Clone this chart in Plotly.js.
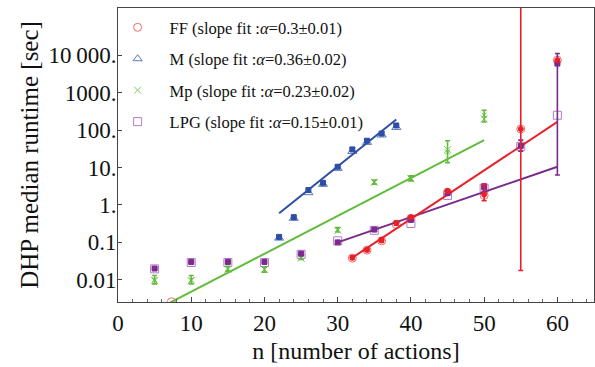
<!DOCTYPE html>
<html>
<head>
<meta charset="utf-8">
<script src="https://cdn.plot.ly/plotly-3.0.1.min.js"></script>
<style>html,body{margin:0;padding:0;background:#fff;}#chart{width:595px;height:367px;}</style>
</head>
<body>
<div id="chart"></div>
<script>
// ---------- data ----------
// FF
var ffN      = [7.3, 32, 34, 36, 38, 40, 45, 50, 55, 60];
var ffMedian = [0.0026, 0.038, 0.062, 0.11, 0.30, 0.44, 2.2, 1.8, 107, 7400];
var ffMean   = [null, 0.039, 0.063, 0.115, 0.33, 0.47, 2.35, 1.9, 107, 7400];
var ffLow    = [null, 0.035, 0.057, 0.10, 0.29, 0.43, 2.1, 1.3, 0.0178, 7000];
var ffHigh   = [null, 0.043, 0.069, 0.13, 0.37, 0.51, 2.6, 3.6, 1e7, 7800];
var ffFitN   = [32, 60];
var ffFit    = [0.039, 166];
// M
var mN      = [22, 24, 26, 28, 30, 32, 34, 36, 38];
var mMedian = [0.13, 0.44, 2.13, 3.56, 9.5, 27, 47, 74, 118];
var mMean   = [0.14, 0.47, 2.5, 3.9, 10.5, 30.5, 52, 81, 133];
var mLow    = [0.125, 0.42, 2.25, 3.5, 9.6, 28, 48, 75, 122];
var mHigh   = [0.155, 0.52, 2.75, 4.3, 11.5, 33, 56, 87, 144];
var mFitN   = [22, 38];
var mFit    = [0.6, 193];
// Mp
var mpN      = [5, 10, 15, 20, 25, 30, 35, 40, 45, 50];
var mpMedian = [0.0095, 0.0095, 0.019, 0.019, 0.038, 0.21, 4.0, 5.0, 30, 200];
var mpMean   = [0.010, 0.010, 0.020, 0.019, 0.040, 0.22, 4.1, 5.2, 26, 250];
var mpLow    = [0.0078, 0.0078, 0.017, 0.016, 0.035, 0.19, 3.6, 4.4, 13.5, 165];
var mpHigh   = [0.013, 0.013, 0.023, 0.022, 0.045, 0.25, 4.6, 6.0, 52, 340];
var mpFitN   = [5, 50];
var mpFit    = [0.0015, 54];
// LPG
var lpgN      = [5, 10, 15, 20, 25, 30, 35, 40, 45, 50, 55, 60];
var lpgMedian = [0.0196, 0.029, 0.029, 0.029, 0.048, 0.11, 0.21, 0.32, 1.8, 2.8, 37, 250];
var lpgMean   = [0.020, 0.030, 0.030, 0.030, 0.050, 0.10, 0.22, 0.40, 2.1, 3.0, 38, 6000];
var lpgLow    = [0.019, 0.028, 0.028, 0.028, 0.047, 0.095, 0.20, 0.37, 1.9, 2.3, 27.5, 6.3];
var lpgHigh   = [0.021, 0.032, 0.032, 0.032, 0.053, 0.106, 0.24, 0.43, 2.3, 3.6, 54, 11100];
var lpgFitN   = [30, 60];
var lpgFit    = [0.1, 10.5];

var yTickVals = [0.01, 0.1, 1, 10, 100, 1000, 10000];
var yTickText = ["0.01", "0.1", "1.", "10.", "100.", "1000.", "10\u2009000."];
var xTickVals = [0, 10, 20, 30, 40, 50, 60];

var legendNames = [
  "FF (slope fit :<i>α</i>=0.3±0.01)",
  "M (slope fit :<i>α</i>=0.36±0.02)",
  "Mp (slope fit :<i>α</i>=0.23±0.02)",
  "LPG (slope fit :<i>α</i>=0.15±0.01)"
];

// ---------- helpers ----------
function plus(mean, high){ return mean.map(function(v,i){ return v==null?null:high[i]-v; }); }
function minus(mean, low){ return mean.map(function(v,i){ return v==null?null:v-low[i]; }); }

var C = {
  ff:  {light:'#f06a6a', dark:'#e8202a'},
  m:   {light:'#5a78c4', dark:'#2e4ea6'},
  mp:  {light:'#7ccc5a', dark:'#62bb3c'},
  lpg: {light:'#b27cc8', dark:'#7a2a8c'}
};

function openTrace(x, y, name, sym, col, grp){
  return {x:x, y:y, type:'scatter', mode:'markers', name:name, legendgroup:grp,
    marker:{symbol:sym, size:(sym==='x-thin-open'?7:8), color:col, line:{color:col, width:1}}};
}
function errTrace(x, y, low, high, col, sym){
  return {x:x, y:y, type:'scatter', mode:'markers', showlegend:false, hoverinfo:'skip',
    marker:{symbol:sym, size:5, color:col, line:{color:col, width:1}},
    error_y:{type:'data', symmetric:false, array:plus(y, high), arrayminus:minus(y, low),
      color:col, thickness:1.6, width:2.5}};
}
function fitTrace(x, y, col){
  return {x:x, y:y, type:'scatter', mode:'lines', showlegend:false, hoverinfo:'skip',
    line:{color:col, width:2}};
}

var data = [
  openTrace(ffN, ffMedian, legendNames[0], 'circle-open', C.ff.light, 'g1'),
  openTrace(mN, mMedian, legendNames[1], 'triangle-up-open', C.m.light, 'g2'),
  openTrace(mpN, mpMedian, legendNames[2], 'x-thin-open', C.mp.light, 'g3'),
  openTrace(lpgN, lpgMedian, legendNames[3], 'square-open', C.lpg.light, 'g4'),
  fitTrace(mpFitN, mpFit, C.mp.dark),
  fitTrace(mFitN, mFit, C.m.dark),
  fitTrace(lpgFitN, lpgFit, C.lpg.dark),
  fitTrace(ffFitN, ffFit, C.ff.dark),
  errTrace(mpN, mpMean, mpLow, mpHigh, C.mp.dark, 'x-thin-open'),
  errTrace(mN, mMean, mLow, mHigh, C.m.dark, 'square'),
  errTrace(lpgN, lpgMean, lpgLow, lpgHigh, C.lpg.dark, 'square'),
  errTrace(ffN, ffMean, ffLow, ffHigh, C.ff.dark, 'circle')
];

var serif = 'Liberation Serif, Times New Roman, serif';
var layout = {
  width:595, height:367,
  margin:{l:118, r:1, t:8, b:65},
  paper_bgcolor:'#fff', plot_bgcolor:'#fff',
  font:{family:serif, color:'#111'},
  showlegend:true,
  legend:{x:-0.026, xanchor:'left', y:0.993, yanchor:'top', bgcolor:'rgba(0,0,0,0)',
    font:{family:serif, size:16.5, color:'#111'}, tracegroupgap:7, itemwidth:54},
  xaxis:{range:[0,65], tickvals:xTickVals, ticks:'inside', ticklen:5, tickwidth:1, tickcolor:'#444',
    minor:{dtick:2, tick0:0, ticks:'inside', ticklen:3, tickcolor:'#666'},
    showline:true, mirror:true, linecolor:'#444', linewidth:1, showgrid:false, zeroline:false,
    tickfont:{family:serif, size:23, color:'#111'},
    title:{text:'n [number of actions]', font:{family:serif, size:24, color:'#111'}, standoff:7}},
  yaxis:{type:'log', range:[-2.593, 5.263], tickvals:yTickVals, ticktext:yTickText,
    ticks:'inside', ticklen:4, tickcolor:'#444', ticklabelstandoff:-4,
    showline:true, mirror:true, linecolor:'#444', linewidth:1, showgrid:false, zeroline:false,
    tickfont:{family:serif, size:23, color:'#111'},
    title:{text:'DHP median runtime [sec]', font:{family:serif, size:25, color:'#111'}, standoff:2}}
};

Plotly.newPlot('chart', data, layout, {displayModeBar:false, staticPlot:true});
</script>
</body>
</html>
